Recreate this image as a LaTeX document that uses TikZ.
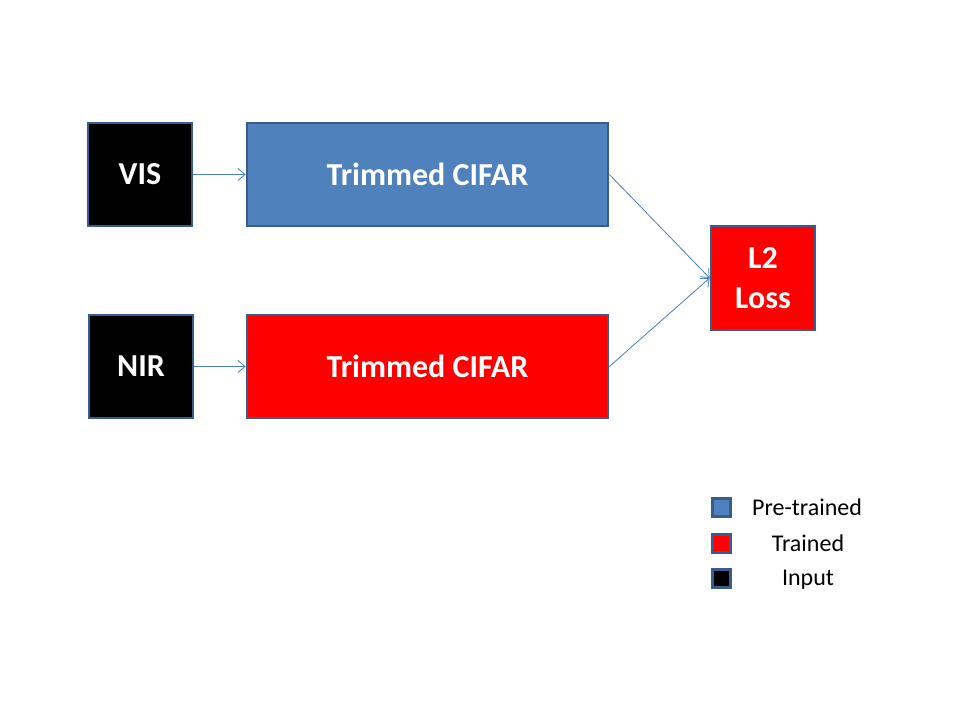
\documentclass[tikz,border=0pt]{standalone}
\usepackage{fontspec}
\setmainfont{Carlito}
\usetikzlibrary{arrows.meta}
\definecolor{bord}{HTML}{385D8A}
\definecolor{pblue}{HTML}{4F81BD}
\definecolor{arr}{HTML}{4A7EBB}
\definecolor{pred}{HTML}{FF0000}
\tikzset{
  blk/.style={draw=bord, line width=2.8pt, inner sep=0pt, text=white, font=\fontsize{32}{36}\selectfont\bfseries, align=center},
  leg/.style={draw=bord, line width=2.6pt, minimum width=18pt, minimum height=18pt, inner sep=0pt},
  legt/.style={font=\fontsize{24}{28}\selectfont, text=black, anchor=base, inner sep=0pt},
  conn/.style={draw=arr, line width=0.8pt, -{Straight Barb[length=7pt,width=12pt,line width=0.8pt]}}
}
\begin{document}
\begin{tikzpicture}[x=1pt,y=-1pt]
\useasboundingbox[fill=white] (0,0) rectangle (960,720);
\node[blk, fill=black, minimum width=104pt, minimum height=103pt] (vis) at (140,174.5) {VIS};
\node[blk, fill=pblue, minimum width=361pt, minimum height=103pt] (cb) at (427.5,174.5) {Trimmed CIFAR};
\node[blk, fill=black, minimum width=104pt, minimum height=103pt] (nir) at (141,366.5) {NIR};
\node[blk, fill=pred, minimum width=361pt, minimum height=103pt] (cr) at (427.5,366.5) {Trimmed CIFAR};
\node[blk, fill=pred, minimum width=104pt, minimum height=104pt, font=\fontsize{32}{40}\selectfont\bfseries] (loss) at (763,278) {L2\\Loss};
\draw[conn] (vis.east) -- (cb.west);
\draw[conn] (nir.east) -- (cr.west);
\draw[conn] (cb.east) -- (loss.west);
\draw[conn] (cr.east) -- (loss.west);
\node[leg, fill=pblue] (l1) at (721.5,507.5) {};
\node[leg, fill=pred] (l2) at (721.5,543.5) {};
\node[leg, fill=black] (l3) at (721.5,578.5) {};
\node[legt] (t1) at (807,515.5) {Pre-trained};
\node[legt] (t2) at (808,551) {Trained};
\node[legt] (t3) at (808,585) {Input};
\end{tikzpicture}
\end{document}
